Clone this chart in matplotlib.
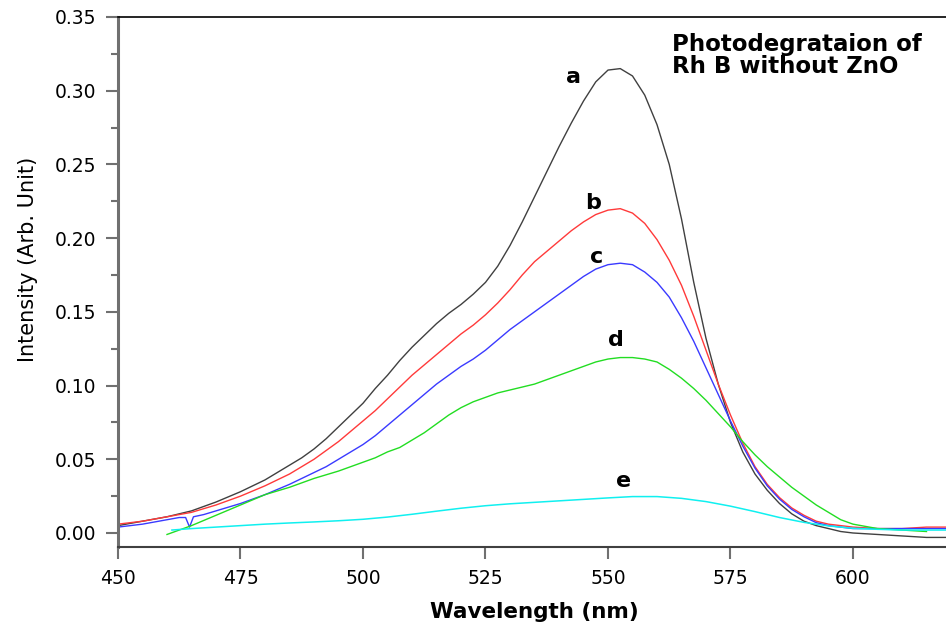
import matplotlib
matplotlib.use('Agg')
import matplotlib.pyplot as plt
from matplotlib.ticker import MultipleLocator, FormatStrFormatter

# Emission spectra of Rh B, no ZnO (a -> e)
wl = [450, 455, 460, 465, 470, 475, 480, 485, 487.5, 490, 492.5, 495, 497.5,
      500, 502.5, 505, 507.5, 510, 512.5, 515, 517.5, 520, 522.5, 525, 527.5,
      530, 532.5, 535, 537.5, 540, 542.5, 545, 547.5, 550, 552.5, 555, 557.5,
      560, 562.5, 565, 567.5, 570, 572.5, 575, 577.5, 580, 582.5, 585, 587.5,
      590, 592.5, 595, 597.5, 600, 605, 610, 615, 620]

curve_a = [0.005, 0.008, 0.011, 0.015, 0.021, 0.028, 0.036, 0.046, 0.051, 0.057,
           0.064, 0.072, 0.080, 0.088, 0.098, 0.107, 0.117, 0.126, 0.134, 0.142,
           0.149, 0.155, 0.162, 0.170, 0.181, 0.195, 0.211, 0.228, 0.245, 0.262,
           0.278, 0.293, 0.306, 0.314, 0.315, 0.310, 0.297, 0.277, 0.250, 0.213,
           0.170, 0.132, 0.101, 0.075, 0.055, 0.040, 0.029, 0.020, 0.013, 0.008,
           0.005, 0.003, 0.001, 0.000, -0.001, -0.002, -0.003, -0.003]

curve_b = [0.006, 0.008, 0.011, 0.014, 0.019, 0.025, 0.032, 0.040, 0.045, 0.050,
           0.056, 0.062, 0.069, 0.076, 0.083, 0.091, 0.099, 0.107, 0.114, 0.121,
           0.128, 0.135, 0.141, 0.148, 0.156, 0.165, 0.175, 0.184, 0.191, 0.198,
           0.205, 0.211, 0.216, 0.219, 0.220, 0.217, 0.210, 0.199, 0.185, 0.168,
           0.147, 0.124, 0.101, 0.080, 0.061, 0.045, 0.033, 0.024, 0.017, 0.012,
           0.008, 0.006, 0.005, 0.004, 0.003, 0.003, 0.004, 0.004]

wl_c = [450, 455, 460, 462.5, 463.8, 464.6, 465.4, 467.5, 470, 475, 480, 485,
        487.5, 490, 492.5, 495, 497.5, 500, 502.5, 505, 507.5, 510, 512.5, 515,
        517.5, 520, 522.5, 525, 527.5, 530, 532.5, 535, 537.5, 540, 542.5, 545,
        547.5, 550, 552.5, 555, 557.5, 560, 562.5, 565, 567.5, 570, 572.5, 575,
        577.5, 580, 582.5, 585, 587.5, 590, 592.5, 595, 600, 605, 610, 615, 620]

curve_c = [0.004, 0.006, 0.009, 0.0105, 0.0105, 0.004, 0.011, 0.0125, 0.015, 0.020,
           0.026, 0.033, 0.037, 0.041, 0.045, 0.050, 0.055, 0.060, 0.066, 0.073,
           0.080, 0.087, 0.094, 0.101, 0.107, 0.113, 0.118, 0.124, 0.131, 0.138,
           0.144, 0.150, 0.156, 0.162, 0.168, 0.174, 0.179, 0.182, 0.183, 0.182,
           0.177, 0.170, 0.160, 0.146, 0.130, 0.112, 0.094, 0.076, 0.059, 0.044,
           0.032, 0.023, 0.016, 0.011, 0.007, 0.005, 0.003, 0.003, 0.003, 0.003,
           0.003]

wl_d = [460, 465, 470, 475, 480, 485, 490, 495, 497.5, 500, 502.5, 505, 507.5,
        510, 512.5, 515, 517.5, 520, 522.5, 525, 527.5, 530, 532.5, 535, 537.5,
        540, 542.5, 545, 547.5, 550, 552.5, 555, 557.5, 560, 562.5, 565, 567.5,
        570, 572.5, 575, 577.5, 580, 582.5, 585, 587.5, 590, 592.5, 595, 597.5,
        600, 605, 610, 615]

curve_d = [-0.001, 0.005, 0.012, 0.019, 0.026, 0.031, 0.037, 0.042, 0.045, 0.048,
           0.051, 0.055, 0.058, 0.063, 0.068, 0.074, 0.080, 0.085, 0.089, 0.092,
           0.095, 0.097, 0.099, 0.101, 0.104, 0.107, 0.110, 0.113, 0.116, 0.118,
           0.119, 0.119, 0.118, 0.116, 0.111, 0.105, 0.098, 0.090, 0.081, 0.072,
           0.062, 0.053, 0.045, 0.038, 0.031, 0.025, 0.019, 0.014, 0.009, 0.006,
           0.003, 0.002, 0.001]

wl_e = [461, 465, 470, 475, 480, 485, 490, 495, 500, 505, 510, 515, 520, 525, 530,
        535, 540, 545, 550, 555, 560, 565, 570, 575, 580, 585, 590, 595, 600, 605,
        610, 615, 620]

curve_e = [0.002, 0.003, 0.004, 0.005, 0.006, 0.0068, 0.0075, 0.0083, 0.0093,
           0.0108, 0.0127, 0.0148, 0.0168, 0.0185, 0.0198, 0.0208, 0.0218, 0.0228,
           0.0238, 0.0247, 0.0247, 0.0235, 0.0213, 0.0182, 0.0145, 0.0105, 0.0072,
           0.0048, 0.0032, 0.0025, 0.002, 0.002, 0.002]

tags = ['a', 'b', 'c', 'd', 'e']
tag_x = [543.0, 547.0, 547.7, 551.6, 553.2]
tag_y = [0.305, 0.220, 0.183, 0.127, 0.031]

fig = plt.figure(figsize=(9.46, 6.24), dpi=100)
ax = fig.add_axes([118 / 946, 1 - 547 / 624, 833 / 946, 530 / 624])

ax.plot(wl, curve_a, color='#404040', lw=1.0)
ax.plot(wl, curve_b, color='#ff3a3a', lw=1.0)
ax.plot(wl_c, curve_c, color='#3a3aff', lw=1.0)
ax.plot(wl_d, curve_d, color='#22dd22', lw=1.0)
ax.plot(wl_e, curve_e, color='#10f0f0', lw=1.1)

for t, x, y in zip(tags, tag_x, tag_y):
    ax.text(x, y, t, fontsize=16, fontweight='bold', ha='center', va='baseline')

ax.set_xlim(450, 620)
ax.set_ylim(-0.0095, 0.35)
ax.xaxis.set_major_locator(MultipleLocator(25))
ax.yaxis.set_major_locator(MultipleLocator(0.05))
ax.yaxis.set_minor_locator(MultipleLocator(0.025))
ax.yaxis.set_major_formatter(FormatStrFormatter('%.2f'))

ax.tick_params(which='major', direction='out', length=8.5, width=1.5,
               color='#707070', labelsize=13.5, pad=7)
ax.tick_params(axis='y', which='major', pad=7)
ax.tick_params(which='minor', direction='out', length=5, width=1.5, color='#707070')

ax.spines['right'].set_visible(False)
ax.spines['left'].set_color('#707070')
ax.spines['left'].set_linewidth(2.2)
ax.spines['bottom'].set_color('#404040')
ax.spines['bottom'].set_linewidth(1.5)
ax.spines['top'].set_linewidth(1.2)

ax.set_xlabel('Wavelength (nm)', fontsize=15.5, fontweight='bold', va='baseline')
ax.xaxis.set_label_coords(0.5, (547 - 618) / 530)
ax.set_ylabel('Intensity (Arb. Unit)', fontsize=15)
ax.yaxis.set_label_coords((38 - 118) / 833, (547 - 259) / 530)

fig.text(672 / 946, 1 - 51 / 624, 'Photodegrataion of', fontsize=16.5,
         fontweight='bold', va='baseline')
fig.text(672 / 946, 1 - 73 / 624, 'Rh B without ZnO', fontsize=16.5,
         fontweight='bold', va='baseline')

fig.savefig('out.png', dpi=100)
